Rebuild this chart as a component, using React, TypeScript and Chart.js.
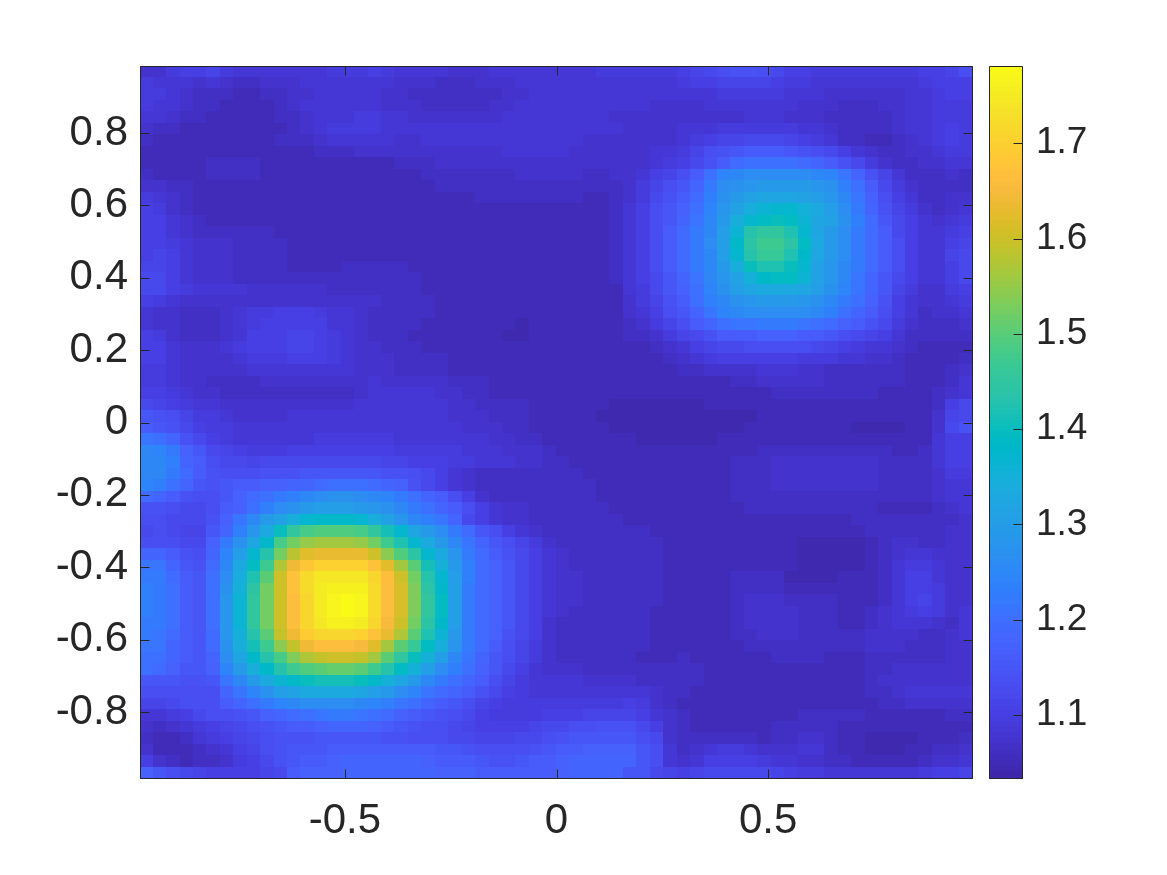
import React, { useEffect, useRef } from "react";
import { Chart, registerables } from "chart.js";

Chart.register(...registerables);

// Cell values in hundredths (107 = 1.07). Top row first.
const heatRows: number[][] = [
[107,107,109,110,110,111,109,108,108,108,108,108,108,108,109,109,109,110,109,108,108,108,108,107,107,107,108,108,108,108,108,108,108,108,109,109,109,109,109,109,110,111,112,113,114,114,113,112,110,110,109,109,109,109,109,109,109,109,110,110,111,113],
[109,108,108,108,107,108,107,106,106,107,107,107,108,108,108,108,108,108,108,107,107,107,106,106,106,107,107,107,108,108,108,108,108,108,108,108,108,108,108,108,109,110,110,111,111,111,111,110,109,109,108,108,108,108,108,108,108,108,109,110,110,110],
[109,109,108,107,106,106,106,105,105,106,106,107,107,108,108,108,108,108,107,107,106,106,106,106,106,106,106,107,107,108,108,108,108,108,108,108,108,108,108,108,108,108,108,109,109,109,109,109,108,108,108,107,107,107,107,107,107,108,108,109,110,110],
[109,108,108,107,106,106,105,105,105,105,106,107,108,108,108,108,108,108,107,107,107,106,106,106,106,106,107,107,108,108,108,108,108,108,108,108,108,108,107,107,107,107,108,108,108,108,108,108,108,107,107,107,106,106,106,107,107,108,108,109,109,109],
[108,108,107,106,106,105,105,105,105,105,106,106,107,108,108,108,109,109,108,108,107,107,107,107,107,107,107,108,108,108,108,108,108,108,108,107,107,107,107,107,107,107,107,107,107,108,108,108,107,107,107,106,106,106,106,106,107,108,108,109,109,109],
[107,106,106,105,105,105,105,105,105,105,105,106,107,108,109,109,109,109,108,108,108,108,108,108,108,108,108,108,108,108,108,108,108,108,108,108,107,107,107,107,108,108,108,109,109,109,109,109,109,108,108,107,106,106,106,106,107,108,108,109,110,109],
[106,105,105,105,105,105,105,105,105,105,106,106,106,107,108,108,108,108,108,107,107,108,108,108,108,108,108,108,108,108,108,108,108,107,107,107,107,107,107,107,108,109,110,111,111,112,112,112,111,110,109,108,106,106,105,105,106,107,108,109,110,109],
[105,105,105,105,105,105,105,105,105,105,105,105,105,106,106,106,107,107,107,107,107,107,107,107,107,107,107,108,108,108,108,108,107,107,107,107,107,107,108,108,109,111,113,114,115,116,116,116,115,114,113,112,110,108,107,106,106,107,107,108,109,109],
[105,105,105,105,105,106,106,106,106,105,105,105,105,105,105,105,105,105,105,106,106,106,107,107,107,107,107,107,107,107,107,107,107,107,107,107,107,107,108,109,110,112,114,116,119,120,120,120,120,119,118,116,114,112,109,107,106,106,107,107,108,108],
[106,105,105,105,105,106,106,106,106,105,105,105,105,105,105,105,105,105,105,105,105,106,106,106,106,106,106,106,107,107,107,107,107,106,106,107,107,108,110,111,113,116,120,124,125,126,126,126,126,126,125,124,121,118,114,111,108,106,106,106,107,106],
[107,107,106,106,105,105,105,105,105,105,105,105,105,105,105,105,105,105,105,105,105,105,106,106,106,106,106,106,106,106,106,106,106,106,106,106,107,109,111,113,115,118,122,126,127,128,129,129,129,129,128,127,123,120,116,112,109,107,106,106,106,106],
[109,108,107,106,105,105,105,105,105,105,105,105,105,105,105,105,105,105,105,105,105,105,105,105,105,106,106,106,106,106,106,106,106,105,105,106,107,109,112,114,116,119,123,127,129,131,132,132,132,131,130,128,125,121,117,113,110,108,106,106,107,107],
[110,109,107,106,105,105,105,105,105,105,105,105,105,105,105,105,105,105,105,105,105,105,105,105,105,105,105,105,105,105,105,105,105,105,105,106,108,110,113,115,117,120,124,128,131,134,136,137,137,135,133,130,126,122,118,114,111,109,107,106,107,108],
[110,110,108,107,106,105,105,105,105,105,105,105,105,105,105,105,105,105,105,105,105,105,105,105,105,105,105,105,105,105,105,105,105,105,105,106,108,110,113,115,118,121,125,129,134,137,139,140,139,136,132,131,127,123,119,115,112,110,108,107,108,109],
[110,110,108,107,106,106,106,106,106,106,105,105,105,105,105,105,105,105,105,105,105,105,105,105,105,105,105,105,105,105,105,105,105,105,105,106,108,110,113,116,119,122,125,130,136,143,145,145,142,137,132,129,126,122,119,116,112,110,108,108,109,110],
[110,110,109,108,107,107,107,106,106,106,106,105,105,105,105,105,105,105,105,105,105,105,105,105,105,105,105,105,105,105,105,105,105,105,105,106,108,110,113,116,119,122,126,130,138,144,147,147,144,139,133,129,126,122,119,116,113,110,108,108,110,111],
[110,111,110,108,107,107,107,106,106,106,106,105,105,105,105,105,105,105,105,105,105,105,105,105,105,105,105,105,105,105,105,105,105,105,105,106,108,110,113,116,119,122,125,130,137,143,146,146,142,138,132,129,126,122,119,116,113,110,108,108,111,112],
[111,111,110,108,107,107,107,106,106,106,106,105,105,105,105,106,106,106,106,106,105,105,105,105,105,105,105,105,105,105,105,105,105,105,105,106,108,110,113,116,119,122,125,129,134,140,142,142,140,137,131,128,125,122,119,116,113,110,108,108,110,112],
[112,112,110,108,107,107,107,106,106,106,106,106,106,106,106,106,106,106,106,106,106,105,105,105,105,105,105,105,105,105,105,105,105,105,105,106,108,110,112,115,118,121,125,128,131,135,138,139,139,136,131,128,125,121,118,115,112,110,108,108,110,112],
[112,112,110,109,108,108,108,108,107,107,107,107,107,107,106,106,106,106,106,106,106,105,105,105,105,105,105,105,105,105,105,105,105,105,105,105,108,109,112,115,117,120,124,127,130,132,133,133,133,132,130,127,124,121,118,115,111,109,107,107,109,110],
[110,109,108,107,107,107,107,107,107,107,107,107,107,107,107,107,107,107,106,106,106,106,105,105,105,105,105,105,105,105,105,105,105,105,105,105,107,109,111,114,116,120,123,125,127,128,129,129,129,128,127,125,122,120,117,114,110,108,107,107,108,109],
[108,107,107,106,106,106,107,108,109,109,110,110,110,109,108,108,107,106,106,106,106,106,105,105,105,105,105,105,105,105,105,105,105,105,105,105,107,108,110,113,115,118,121,124,125,126,126,126,126,126,125,123,120,118,116,113,110,108,106,107,107,108],
[108,107,107,106,106,106,107,108,109,110,110,110,110,110,108,108,107,106,106,106,106,105,105,105,105,105,105,105,104,105,105,105,105,105,105,105,106,107,109,111,113,116,118,120,121,121,122,122,122,121,120,119,117,116,114,112,109,107,106,106,106,107],
[110,109,107,106,106,106,107,108,110,110,110,111,111,110,109,108,107,106,106,106,105,105,105,105,105,105,105,104,104,105,105,105,105,105,105,105,106,106,107,109,111,112,114,116,116,116,117,117,117,116,116,115,113,112,111,110,108,106,106,106,106,106],
[110,110,108,107,107,107,108,109,110,110,110,111,111,110,109,108,107,107,106,106,106,105,105,105,105,105,105,105,105,105,105,105,105,105,105,105,105,105,106,107,108,110,111,112,112,113,113,113,113,113,112,111,110,109,108,108,107,106,105,105,105,105],
[110,110,108,107,107,107,107,108,109,109,109,110,110,110,109,108,107,107,107,106,106,106,106,105,105,105,105,105,105,105,105,105,105,105,105,105,105,105,105,106,107,108,109,110,110,110,110,110,110,109,109,109,108,108,107,107,106,105,105,105,105,106],
[109,109,108,107,107,107,107,107,108,108,108,108,108,108,108,108,107,107,107,106,106,106,106,105,105,105,105,105,105,105,105,105,105,105,105,105,105,105,105,105,106,106,107,107,107,107,108,108,108,107,107,106,106,106,106,106,106,105,105,105,106,107],
[109,109,108,107,107,106,106,106,106,107,107,107,107,107,107,107,107,108,107,107,107,107,107,106,106,106,105,105,105,105,105,105,105,105,105,105,105,105,105,105,105,105,105,105,106,106,107,107,107,107,107,106,106,106,106,106,106,105,105,105,106,108],
[110,110,109,108,107,107,106,106,106,106,106,106,106,106,106,106,107,108,108,108,108,108,107,107,106,106,105,105,105,105,105,105,105,105,105,105,105,105,105,105,105,105,105,105,105,105,105,106,106,106,106,106,106,106,106,105,105,105,105,106,107,108],
[112,111,110,109,108,108,107,107,107,107,107,107,107,107,107,107,108,108,108,108,108,108,108,107,107,106,106,106,106,105,105,105,105,105,105,104,104,104,104,104,104,104,105,105,105,105,105,105,105,105,105,105,105,105,105,105,105,105,105,106,110,112],
[115,114,113,111,109,109,108,107,107,107,107,108,108,108,108,108,108,108,108,108,108,108,108,107,107,107,106,106,106,105,105,105,105,105,104,104,104,104,104,104,104,104,104,104,104,104,105,105,105,105,105,105,105,105,105,105,105,105,105,107,111,112],
[116,115,114,112,110,109,109,108,108,108,108,108,108,108,108,108,108,108,108,108,108,108,108,108,107,107,107,106,106,105,105,105,105,105,105,104,104,104,104,104,104,104,104,104,104,105,105,105,105,105,105,105,105,104,104,104,104,105,105,107,112,114],
[121,120,118,114,112,110,109,108,108,108,108,108,108,109,109,109,109,109,109,108,108,108,108,108,108,108,107,107,106,106,105,105,105,105,105,105,105,104,104,104,104,104,104,105,105,105,105,105,105,105,105,105,105,105,105,105,105,105,105,108,110,110],
[125,124,122,117,115,112,111,110,109,109,109,110,110,110,110,110,110,110,110,109,109,109,109,109,108,108,108,107,107,107,106,105,105,105,105,105,105,105,105,105,105,105,105,105,105,105,106,106,106,106,106,106,106,106,106,106,105,105,106,108,110,110],
[125,125,123,118,116,113,112,112,111,112,112,112,112,112,112,112,112,112,111,111,110,110,110,109,109,108,108,108,107,107,106,106,105,105,105,105,105,105,105,105,105,105,105,105,106,106,106,107,107,107,107,107,107,107,107,106,106,106,106,108,110,110],
[125,125,122,119,116,114,113,113,113,114,114,114,115,115,115,115,115,115,114,114,113,112,110,108,107,106,106,106,106,106,106,106,106,105,105,105,105,105,105,105,105,105,105,105,106,106,106,107,107,107,107,107,107,107,107,106,106,106,106,107,109,109],
[124,123,120,118,115,114,115,116,116,117,117,118,118,119,120,120,120,119,118,117,114,112,110,108,107,106,106,106,106,106,106,106,106,106,105,105,105,105,105,105,105,105,105,105,106,106,106,107,107,107,107,107,107,107,107,106,106,106,106,107,108,108],
[119,118,116,114,113,113,115,117,119,120,122,123,125,126,127,127,126,125,124,122,120,118,116,113,110,107,106,106,106,106,106,106,106,106,105,105,105,105,105,105,105,105,105,105,106,106,106,106,106,106,106,106,106,106,106,106,106,106,106,107,108,108],
[114,114,113,112,112,113,116,117,120,123,126,127,129,130,130,130,129,128,127,125,122,120,118,116,113,110,108,107,107,106,106,106,106,106,106,105,105,105,105,105,105,105,105,105,105,106,106,106,106,106,106,106,106,106,106,105,105,105,105,106,107,108],
[113,113,112,112,112,114,117,121,125,129,131,134,137,138,138,138,137,134,131,128,125,123,121,118,112,110,108,107,107,106,106,106,106,106,106,106,105,105,105,105,105,105,105,105,105,105,105,105,105,105,105,105,105,106,106,106,106,106,106,106,106,107],
[112,113,112,111,111,115,118,123,128,133,140,145,148,149,149,149,148,145,141,137,132,129,126,122,119,115,113,110,108,107,106,106,106,106,106,106,106,106,105,105,105,105,105,105,105,105,105,105,105,105,105,105,105,105,106,106,106,106,106,106,107,107],
[113,113,113,112,112,117,122,127,132,138,148,152,155,156,156,156,155,152,147,142,137,133,129,125,121,118,115,113,111,109,107,106,106,106,106,106,106,106,106,105,105,105,105,105,105,105,105,105,105,104,104,104,104,104,105,106,107,107,106,106,107,107],
[118,118,116,114,113,118,124,130,137,143,152,158,162,163,163,163,163,160,154,149,144,137,133,128,122,119,116,114,112,110,108,107,106,106,106,106,106,106,106,105,105,105,105,105,105,105,105,105,105,104,104,104,104,104,105,106,107,108,108,107,107,107],
[121,121,118,115,114,119,125,133,139,147,157,164,168,170,170,170,170,167,162,156,150,141,135,129,123,119,117,115,112,110,108,107,106,106,106,106,106,106,106,105,105,105,105,105,105,105,105,105,105,104,104,104,104,104,105,106,108,109,109,108,107,107],
[122,122,119,116,115,120,126,134,142,150,160,167,172,174,174,174,174,171,166,160,152,143,137,130,123,119,117,115,112,110,108,107,107,106,106,106,106,106,106,105,105,105,105,105,106,106,106,106,104,104,104,104,105,105,105,106,108,110,110,108,107,107],
[123,122,120,116,115,120,127,135,144,152,160,167,172,175,176,176,176,172,166,161,153,144,138,130,122,119,117,115,112,110,108,107,107,106,106,106,106,106,106,105,105,105,105,105,106,106,106,106,105,105,105,105,105,105,105,106,108,110,110,109,107,107],
[123,122,120,116,115,120,128,136,145,152,160,166,171,175,177,178,177,172,166,161,153,145,139,130,122,119,117,115,112,110,108,107,107,106,106,106,106,106,106,105,105,105,105,105,106,107,107,107,106,106,106,106,105,105,105,106,108,110,111,109,107,107],
[123,122,120,116,115,120,128,136,145,152,160,166,171,175,177,178,177,172,166,161,153,145,139,130,122,119,117,115,112,110,108,107,106,106,106,106,106,106,105,105,105,105,105,105,106,107,107,107,107,106,106,106,105,105,106,107,108,109,110,109,107,108],
[122,122,120,116,115,120,128,136,145,152,160,166,171,174,176,176,175,171,165,160,152,144,138,130,122,119,117,115,112,110,107,106,106,106,106,106,106,106,105,105,105,105,105,105,106,107,107,107,107,106,106,106,105,105,106,107,108,108,108,107,106,108],
[122,121,119,116,115,119,128,135,143,150,159,164,169,171,171,171,170,167,163,157,150,142,136,129,122,119,117,114,112,110,107,106,106,106,106,106,106,106,105,105,105,105,105,105,106,106,107,107,107,106,106,106,106,106,107,107,107,107,106,106,107,108],
[121,121,118,116,115,119,127,134,141,147,154,159,164,166,166,166,165,162,156,150,146,139,134,128,122,119,116,113,111,109,107,106,106,106,106,106,106,106,105,105,105,105,105,105,105,106,106,106,106,106,106,106,106,106,107,107,107,106,106,106,107,107],
[120,120,118,116,115,118,126,132,138,143,148,153,157,159,160,160,159,156,150,145,140,135,130,125,121,118,115,113,111,109,107,106,106,106,106,106,106,105,105,105,106,105,105,105,105,105,105,106,106,106,106,105,105,105,106,106,106,106,106,106,107,107],
[120,119,117,115,115,117,124,129,134,138,143,147,149,150,151,151,150,147,143,139,135,130,126,123,120,117,115,112,110,108,107,107,107,106,106,106,106,106,106,106,106,106,105,105,105,105,105,105,105,105,105,105,105,105,106,106,107,107,107,107,107,107],
[115,115,115,114,114,115,121,125,129,133,136,138,140,141,141,141,140,138,135,132,129,125,122,120,118,116,113,111,109,108,108,108,108,107,107,107,107,106,106,106,106,106,105,105,105,105,105,105,105,105,105,105,105,105,106,107,107,107,107,107,107,107],
[113,113,113,113,113,113,118,121,124,127,130,131,133,133,133,133,132,130,129,126,124,121,119,118,116,114,112,110,109,108,108,108,108,108,108,108,108,108,107,106,106,105,105,105,105,105,105,105,105,105,105,105,105,105,106,106,107,108,108,108,108,108],
[111,111,112,113,113,113,116,118,120,122,124,125,126,126,126,126,125,124,123,121,120,118,116,115,113,111,110,109,109,109,109,109,109,109,109,109,110,109,107,106,105,105,105,105,105,105,105,105,105,105,105,105,105,105,105,106,106,107,107,107,107,107],
[108,108,109,110,112,113,113,114,115,117,118,119,120,121,122,122,121,120,119,117,116,115,114,113,112,110,109,109,109,109,110,110,110,111,111,111,111,110,108,107,106,105,105,105,105,105,105,105,105,106,106,106,106,106,105,105,105,105,105,105,106,106],
[107,106,107,108,109,110,111,112,113,114,115,116,116,117,118,118,118,117,116,115,114,113,113,112,111,110,110,110,110,111,112,112,113,113,114,114,114,112,110,107,106,105,105,105,105,105,105,106,106,106,106,106,105,105,105,105,105,105,105,105,105,105],
[106,105,105,106,108,109,110,111,112,113,114,114,114,115,115,115,115,115,114,114,113,113,113,112,112,111,111,111,112,112,113,114,115,115,115,115,115,113,112,107,106,106,106,106,106,106,105,106,106,107,107,106,105,105,104,104,104,104,105,105,105,106],
[107,105,105,105,106,107,108,110,111,113,114,115,115,115,116,116,116,116,116,116,116,116,115,115,114,113,113,113,113,114,115,116,116,117,117,117,117,115,113,108,106,107,108,109,109,108,107,107,107,108,108,106,105,105,104,104,104,105,105,106,106,107],
[110,107,106,105,106,106,107,109,110,112,114,115,116,116,117,118,118,118,118,118,118,117,116,116,116,115,114,114,115,116,116,117,118,118,118,118,118,115,113,108,107,108,110,110,110,110,109,108,108,107,107,106,106,105,105,105,105,105,106,107,107,108],
[117,115,113,112,111,110,110,110,110,111,112,116,117,117,117,118,118,118,118,118,118,118,117,117,117,116,116,116,116,116,116,117,118,118,118,118,115,115,112,111,110,111,112,112,112,112,112,111,110,109,109,108,108,108,108,108,108,108,109,110,110,111],
];

const xTickValues = [-0.5, 0, 0.5];
const yTickValues = [-0.8, -0.6, -0.4, -0.2, 0, 0.2, 0.4, 0.6, 0.8];
const barTickValues = [1.1, 1.2, 1.3, 1.4, 1.5, 1.6, 1.7];
const xLimit = 0.984;
const yLimit = 0.985;
const colorMin = 1.033;
const colorMax = 1.781;

const parula: number[][] = [
[0.2422,0.1504,0.6603],[0.2504,0.165,0.7076],[0.2578,0.1818,0.7511],[0.2647,0.1978,0.7952],
[0.2706,0.2147,0.8364],[0.2751,0.2342,0.871],[0.2783,0.2559,0.8991],[0.2803,0.2782,0.9221],
[0.2813,0.3006,0.9414],[0.281,0.3228,0.9579],[0.2795,0.3447,0.9717],[0.276,0.3667,0.9829],
[0.2699,0.3892,0.9906],[0.2602,0.4123,0.9952],[0.244,0.4358,0.9988],[0.2206,0.4603,0.9973],
[0.1963,0.4847,0.9892],[0.1834,0.5074,0.9798],[0.1786,0.5289,0.9682],[0.1764,0.5499,0.952],
[0.1687,0.5703,0.9359],[0.154,0.5902,0.9218],[0.146,0.6091,0.9079],[0.138,0.6276,0.8973],
[0.1248,0.6459,0.8883],[0.1113,0.6635,0.8763],[0.0952,0.6798,0.8598],[0.0689,0.6948,0.8394],
[0.0297,0.7082,0.8163],[0.0036,0.7203,0.7917],[0.0067,0.7312,0.766],[0.0433,0.7411,0.7394],
[0.0964,0.75,0.712],[0.1408,0.7584,0.6842],[0.1717,0.767,0.6554],[0.1938,0.7758,0.6251],
[0.2161,0.7843,0.5923],[0.247,0.7918,0.5567],[0.2906,0.7973,0.5188],[0.3406,0.8008,0.4789],
[0.3909,0.8029,0.4354],[0.4456,0.8024,0.3909],[0.5044,0.7993,0.348],[0.5616,0.7942,0.3045],
[0.6174,0.7876,0.2612],[0.672,0.7793,0.2227],[0.7242,0.7698,0.191],[0.7738,0.7598,0.1646],
[0.8203,0.7498,0.1535],[0.8634,0.7406,0.1596],[0.9035,0.733,0.1774],[0.9393,0.7288,0.21],
[0.9728,0.7298,0.2394],[0.9956,0.7434,0.2371],[0.997,0.7659,0.2199],[0.9952,0.7893,0.2028],
[0.9892,0.8136,0.1885],[0.9786,0.8386,0.1766],[0.9676,0.8639,0.1643],[0.961,0.889,0.1537],
[0.9597,0.9135,0.1423],[0.9628,0.9373,0.1265],[0.9691,0.9606,0.1064],[0.9769,0.9839,0.0805],
];

const colorFor = (v: number) => {
  const t = Math.max(0, Math.min(1, (v - colorMin) / (colorMax - colorMin))) * (parula.length - 1);
  const i = Math.min(parula.length - 2, Math.floor(t));
  const f = t - i;
  const mix = (k: number) => Math.round((parula[i][k] * (1 - f) + parula[i + 1][k] * f) * 255);
  return `rgb(${mix(0)},${mix(1)},${mix(2)})`;
};

const cellCache = new Map<string, HTMLCanvasElement>();
const cellSprite = (v: number) => {
  const col = colorFor(v);
  let c = cellCache.get(col);
  if (!c) {
    c = document.createElement("canvas");
    c.width = 15;
    c.height = 13;
    const g = c.getContext("2d")!;
    g.fillStyle = col;
    g.fillRect(0, 0, 15, 13);
    cellCache.set(col, c);
  }
  return c;
};

const INK = "#262626";
const FAMILY = "'Liberation Sans', Arial, sans-serif";
const FONT = { family: FAMILY, size: 42 };
const BAR_FONT = { family: FAMILY, size: 37 };

const framePlugin = {
  id: "frame",
  afterDraw(chart: any, _a: any, opts: any) {
    const { ctx, chartArea: a, scales } = chart;
    const L = Math.round(a.left) + 0.5;
    const R = Math.round(a.right) - 0.5;
    const T = Math.round(a.top) + 0.5;
    const B = Math.round(a.bottom) - 0.5;
    ctx.save();
    ctx.strokeStyle = INK;
    ctx.lineWidth = 1;
    ctx.beginPath();
    ctx.rect(L, T, R - L, B - T);
    if (opts.mode === "main") {
      for (const v of xTickValues) {
        const p = Math.round(scales.x.getPixelForValue(v)) + 0.5;
        ctx.moveTo(p, B); ctx.lineTo(p, B - 9);
        ctx.moveTo(p, T); ctx.lineTo(p, T + 9);
      }
      for (const v of yTickValues) {
        const p = Math.round(scales.y.getPixelForValue(v)) + 0.5;
        ctx.moveTo(L, p); ctx.lineTo(L + 9, p);
        ctx.moveTo(R, p); ctx.lineTo(R - 9, p);
      }
    } else {
      for (const v of barTickValues) {
        const p = Math.round(scales.y.getPixelForValue(v)) + 0.5;
        ctx.moveTo(R, p); ctx.lineTo(R - 9, p);
      }
    }
    ctx.stroke();
    ctx.restore();
  },
};

export default function App() {
  const mainRef = useRef<HTMLCanvasElement>(null);
  const barRef = useRef<HTMLCanvasElement>(null);

  useEffect(() => {
    document.body.style.margin = "0";
    const n = heatRows.length;
    const dx = (2 * xLimit) / n;
    const dy = (2 * yLimit) / n;
    const points: { x: number; y: number; v: number }[] = [];
    heatRows.forEach((row, j) =>
      row.forEach((h, i) =>
        points.push({ x: -xLimit + (i + 0.5) * dx, y: yLimit - (j + 0.5) * dy, v: h / 100 })
      )
    );

    const main = new Chart(mainRef.current!, {
      type: "scatter",
      data: {
        datasets: [
          {
            data: points as any,
            pointRadius: 8,
            pointBorderWidth: 0,
            pointStyle: (c: any) => (c.raw ? cellSprite(c.raw.v) : "rect"),
          } as any,
        ],
      },
      options: {
        animation: false,
        responsive: false,
        events: [],
        layout: { padding: { top: 66, right: 194, left: 0, bottom: 0 } },
        plugins: { legend: { display: false }, tooltip: { enabled: false }, frame: { mode: "main" } } as any,
        scales: {
          x: {
            type: "linear",
            min: -xLimit,
            max: xLimit,
            afterBuildTicks: (s: any) => { s.ticks = xTickValues.map((value) => ({ value })); },
            afterFit: (s: any) => { s.height = 96; },
            grid: { display: false },
            border: { display: false },
            ticks: { font: FONT, color: INK, padding: 9, maxRotation: 0, autoSkip: false, callback: (v: any) => String(v) },
          },
          y: {
            type: "linear",
            min: -yLimit,
            max: yLimit,
            afterBuildTicks: (s: any) => { s.ticks = yTickValues.map((value) => ({ value })); },
            afterFit: (s: any) => { s.width = 140; },
            grid: { display: false },
            border: { display: false },
            ticks: { font: FONT, color: INK, padding: 4, autoSkip: false, callback: (v: any) => String(v) },
          },
        },
      },
      plugins: [framePlugin],
    } as any);

    const bins = 128;
    const step = (colorMax - colorMin) / bins;
    const bar = new Chart(barRef.current!, {
      type: "bar",
      data: {
        labels: ["c"],
        datasets: Array.from({ length: bins }, (_u, k) => ({
          data: [[colorMin + k * step, colorMin + (k + 1.3) * step]],
          backgroundColor: colorFor(colorMin + (k + 0.5) * step),
          borderWidth: 0,
          barPercentage: 1,
          categoryPercentage: 1,
          grouped: false,
        })) as any,
      },
      options: {
        animation: false,
        responsive: false,
        events: [],
        layout: { padding: { top: 66, bottom: 96, left: 989, right: 0 } },
        plugins: { legend: { display: false }, tooltip: { enabled: false }, frame: { mode: "bar" } } as any,
        scales: {
          x: { display: false },
          y: {
            type: "linear",
            position: "right",
            min: colorMin,
            max: colorMax,
            afterBuildTicks: (s: any) => { s.ticks = barTickValues.map((value) => ({ value })); },
            afterFit: (s: any) => { s.width = 144; },
            grid: { display: false },
            border: { display: false },
            ticks: { font: BAR_FONT, color: INK, padding: 5, autoSkip: false, callback: (v: any) => Number(v).toFixed(1) },
          },
        },
      },
      plugins: [framePlugin],
    } as any);

    return () => {
      main.destroy();
      bar.destroy();
    };
  }, []);

  return (
    <div style={{ position: "relative", width: 1167, height: 875, background: "#fff" }}>
      <canvas ref={mainRef} width={1167} height={875} style={{ position: "absolute", left: 0, top: 0 }} />
      <canvas ref={barRef} width={1167} height={875} style={{ position: "absolute", left: 0, top: 0 }} />
    </div>
  );
}
